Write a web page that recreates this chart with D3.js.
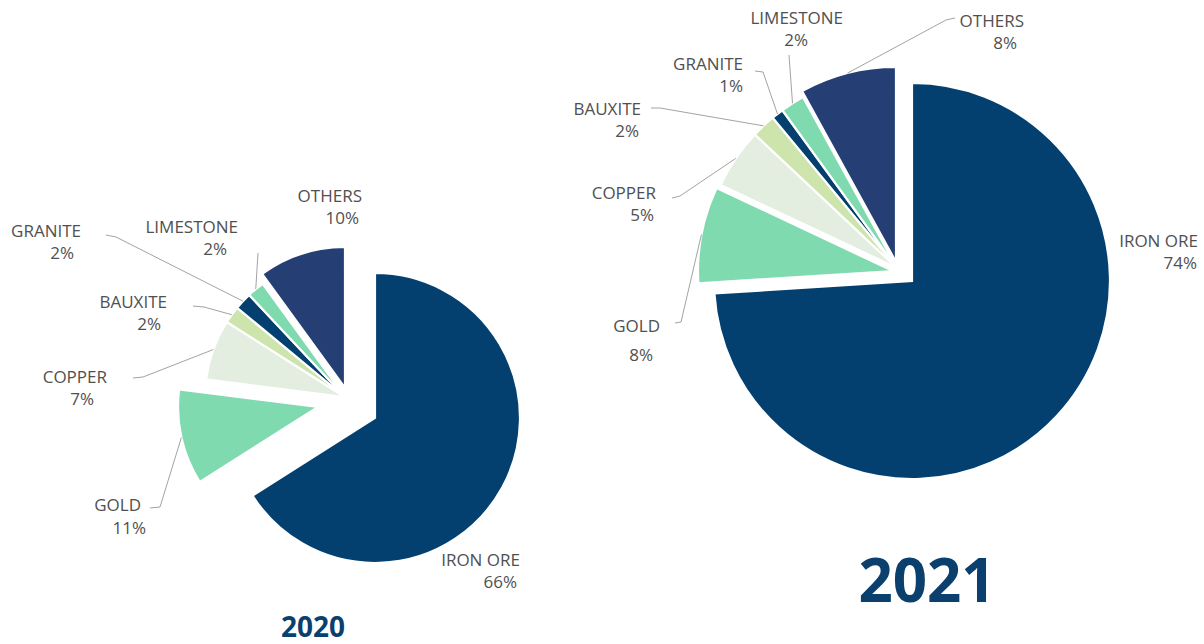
<!DOCTYPE html>
<html>
<head>
<meta charset="utf-8">
<script src="https://cdn.jsdelivr.net/npm/d3@7"></script>
<style>
  html, body { margin: 0; padding: 0; background: #ffffff; }
  svg { display: block; }
  .lbl { font-family: "Open Sans", "Noto Sans", sans-serif; font-size: 17px; fill: #505050; }
  .yr { font-family: "Open Sans", "Noto Sans", sans-serif; font-weight: 700; fill: #0b3f6e; }
</style>
</head>
<body>
<script>
// Mineral production shares by commodity (%)
const categories = ["IRON ORE", "GOLD", "COPPER", "BAUXITE", "GRANITE", "LIMESTONE", "OTHERS"];
const share2020 = [66, 11, 7, 2, 2, 2, 10];
const share2021 = [74, 8, 5, 2, 1, 2, 8];
const yearLabels = ["2020", "2021"];

// Slice fills, in category order
const palette = ["#033f6f", "#80dab0", "#e4eee0", "#cde4ad", "#033f6f", "#80dab0", "#253f75"];

// Per-pie layout: base centre, radii, exploded-slice offsets, label anchors
// label entry: [nameXEnd, nameY, pctXEnd, pctY, leaderStartPoints | null]
const layouts = [
  {
    year: yearLabels[0], values: share2020,
    center: [345, 397], r: 140, rMain: 145,
    offsets: { 0: [30, 21], 1: [-27, 10], 6: [0, -9] },
    rBump: { 6: 1 },
    title: { x: 313, y: 637, size: 28 },
    labels: [
      [520, 560, 517, 582, null],
      [141, 505, 146, 528, [[150, 508], [160, 507]]],
      [107, 377, 94, 399, [[133, 378], [143, 377]]],
      [167, 302, 161, 324, [[193, 306], [204, 307]]],
      [81, 231, 74, 253, [[106, 235], [116, 237]]],
      [238, 227, 227, 249, [[258, 253]]],
      [362, 196, 359, 218, null]
    ]
  },
  {
    year: yearLabels[1], values: share2021,
    center: [897, 268], r: 195, rMain: 198,
    offsets: { 0: [15, 13], 1: [-4, 3], 6: [-1, -6] },
    rBump: {},
    title: { x: 927, y: 602, size: 60 },
    labels: [
      [1198, 241, 1197, 263, null],
      [660, 326, 653, 355, [[675, 323], [681, 322]]],
      [656, 193, 654, 215, [[672, 198], [680, 196]]],
      [641, 109, 639, 131, [[651, 108], [660, 108]]],
      [743, 64, 743, 86, [[755, 71], [763, 72]]],
      [843, 18, 808, 40, [[789, 55]]],
      [1024, 21, 1017, 43, [[955, 18], [946, 20]]]
    ]
  }
];

const W = 1204, H = 644;
const svg = d3.select("body").append("svg").attr("width", W).attr("height", H);

const pie = d3.pie().sort(null).value(d => d.value).startAngle(0).endAngle(2 * Math.PI);
const line = d3.line();

layouts.forEach(cfg => {
  const rows = categories.map((name, i) => ({ name, value: cfg.values[i], i }));
  const slices = pie(rows);

  const radiusOf = i => (i === 0 ? cfg.rMain : cfg.r + (cfg.rBump[i] || 0));
  const offsetOf = i => cfg.offsets[i] || [0, 0];

  const g = svg.append("g");

  // Wedges
  g.selectAll("path.slice")
    .data(slices)
    .join("path")
    .attr("class", "slice")
    .attr("transform", d => {
      const o = offsetOf(d.index);
      return `translate(${cfg.center[0] + o[0]},${cfg.center[1] + o[1]})`;
    })
    .attr("d", d => d3.arc().innerRadius(0).outerRadius(radiusOf(d.index))(d))
    .attr("fill", d => palette[d.index])
    .attr("stroke", "#ffffff")
    .attr("stroke-width", 2.2)
    .attr("stroke-linejoin", "miter");

  // Leader lines from label to the mid-point of each wedge's rim
  slices.forEach(d => {
    const lab = cfg.labels[d.index];
    if (!lab[4]) return;
    const r = radiusOf(d.index);
    const rim = d3.arc().innerRadius(r).outerRadius(r).centroid(d);
    const o = offsetOf(d.index);
    const end = [cfg.center[0] + o[0] + rim[0], cfg.center[1] + o[1] + rim[1]];
    g.append("path")
      .attr("d", line(lab[4].concat([end])))
      .attr("fill", "none")
      .attr("stroke", "#a3a3a3")
      .attr("stroke-width", 1);
  });

  // Category name and share
  slices.forEach(d => {
    const lab = cfg.labels[d.index];
    g.append("text").attr("class", "lbl")
      .attr("x", lab[0]).attr("y", lab[1]).attr("dy", "0.36em")
      .attr("text-anchor", "end")
      .text(d.data.name);
    g.append("text").attr("class", "lbl")
      .attr("x", lab[2]).attr("y", lab[3]).attr("dy", "0.36em")
      .attr("text-anchor", "end")
      .text(d.data.value + "%");
  });

  // Year heading
  g.append("text").attr("class", "yr")
    .attr("x", cfg.title.x).attr("y", cfg.title.y)
    .attr("text-anchor", "middle")
    .style("font-size", cfg.title.size + "px")
    .text(cfg.year);
});
</script>
</body>
</html>
